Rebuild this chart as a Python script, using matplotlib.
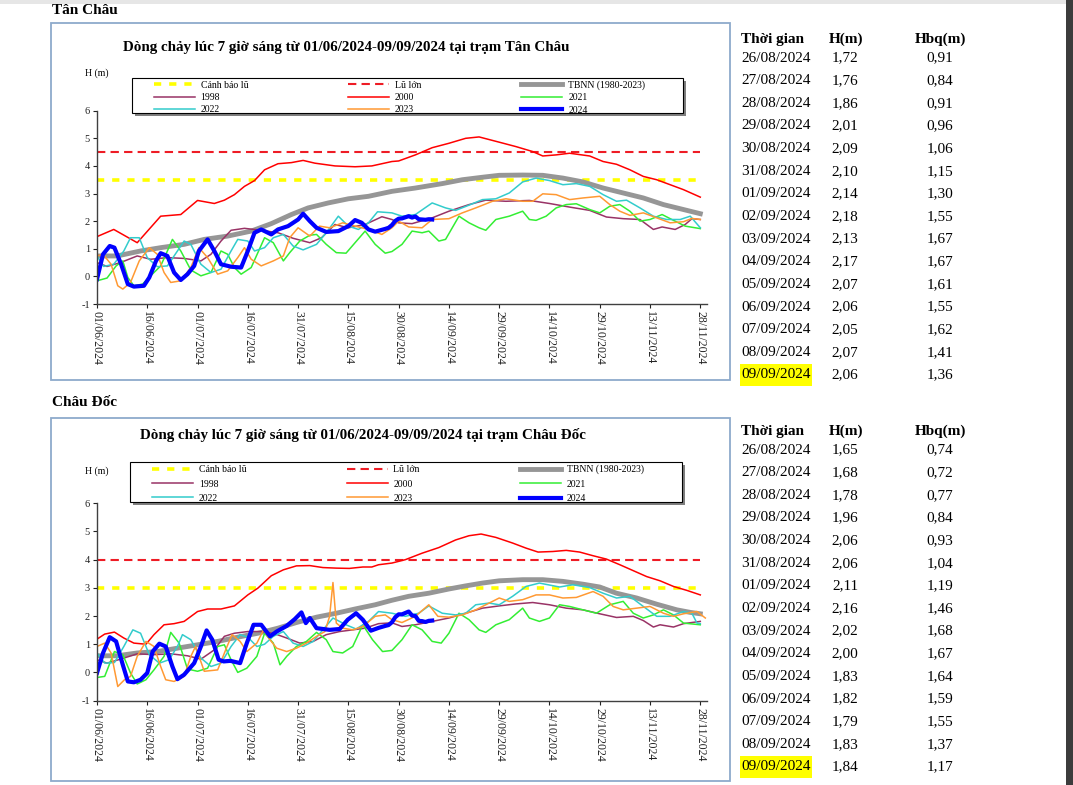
import matplotlib
matplotlib.use("Agg")
import matplotlib.pyplot as plt
from matplotlib.patches import Rectangle
from matplotlib.lines import Line2D

plt.rcParams['font.family'] = ['Liberation Serif', 'DejaVu Serif']
plt.rcParams['axes.unicode_minus'] = False

W, H = 1073, 785

DATE_TICKS = ['01/06/2024', '16/06/2024', '01/07/2024', '16/07/2024', '31/07/2024',
              '15/08/2024', '30/08/2024', '14/09/2024', '29/09/2024', '14/10/2024',
              '29/10/2024', '13/11/2024', '28/11/2024']

TABLE_DATES = ['26/08/2024', '27/08/2024', '28/08/2024', '29/08/2024', '30/08/2024',
               '31/08/2024', '01/09/2024', '02/09/2024', '03/09/2024', '04/09/2024',
               '05/09/2024', '06/09/2024', '07/09/2024', '08/09/2024', '09/09/2024']
TABLE_DAYS = list(range(86, 101))   # days since 01/06/2024

TC_H = [1.72, 1.76, 1.86, 2.01, 2.09, 2.10, 2.14, 2.18, 2.13, 2.17, 2.07, 2.06, 2.05, 2.07, 2.06]
TC_HBQ = [0.91, 0.84, 0.91, 0.96, 1.06, 1.15, 1.30, 1.55, 1.67, 1.67, 1.61, 1.55, 1.62, 1.41, 1.36]
CD_H = [1.65, 1.68, 1.78, 1.96, 2.06, 2.06, 2.11, 2.16, 2.02, 2.00, 1.83, 1.82, 1.79, 1.83, 1.84]
CD_HBQ = [0.74, 0.72, 0.77, 0.84, 0.93, 1.04, 1.19, 1.46, 1.68, 1.67, 1.64, 1.59, 1.55, 1.37, 1.17]

TC_WARN, TC_BIG = 3.5, 4.5
CD_WARN, CD_BIG = 3.0, 4.0

# (day since 01/06, metres) - Tan Chau
TC_TBNN = [(0,0.74),(6,0.74),(13,0.92),(19,1.04),(26,1.16),(32,1.34),(39,1.46),(46,1.64),(52,1.91),
           (58,2.24),(63,2.48),(69,2.66),(75,2.81),(81,2.90),(88,3.08),(95,3.20),(103,3.36),(109,3.50),
           (115,3.59),(120,3.66),(127,3.67),(133,3.66),(139,3.56),(145,3.42),(151,3.20),(157,3.02),
           (163,2.84),(169,2.60),(175,2.42),(180,2.27)]
TC_1998 = [(0,0.50),(3,0.36),(7,0.50),(12,0.74),(16,0.62),(21,0.68),(26,0.65),(31,0.56),(34,0.80),
           (37,1.28),(40,1.67),(44,1.74),(49,1.67),(54,1.58),(58.5,1.38),(63.5,1.22),(67,1.40),(71,1.88),
           (75,1.76),(80,1.88),(85,2.16),(88,2.06),(90,1.94),(94,1.91),(100,2.12),(105,2.36),(111,2.60),
           (116,2.76),(122,2.72),(129,2.75),(135,2.64),(141,2.51),(147,2.39),(152,2.15),(157,2.09),
           (162,2.06),(166,1.70),(168.6,1.79),(172.5,1.70),(175.5,1.88),(177.5,2.09),(180,2.06)]
TC_2000 = [(0,1.44),(5,1.70),(12,1.22),(19,2.18),(25,2.24),(30,2.75),(35,2.64),(38,2.76),(41,2.96),
           (44,3.26),(47,3.47),(50,3.86),(54,4.08),(58,4.12),(61.5,4.20),(65,4.10),(71,4.00),(77,3.97),
           (82,4.00),(88,4.16),(90,4.18),(95,4.40),(100,4.66),(105,4.82),(110,5.00),(114,5.05),(120,4.86),
           (125,4.70),(130,4.52),(133,4.36),(137,4.40),(141,4.46),(147,4.36),(151,4.16),(155,4.06),
           (159,3.86),(163,3.62),(167,3.50),(171,3.32),(175,3.14),(180,2.87)]
TC_2021 = [(0,-0.16),(3,-0.06),(5.7,0.38),(7.7,0.56),(9.2,-0.04),(11,-0.34),(13.6,-0.28),(16,0.02),
           (19,0.38),(21,0.92),(22.5,1.34),(25,0.92),(28,0.23),(31,0.02),(34,0.14),(37,0.92),(39,0.80),
           (41,0.32),(43,0.08),(46,0.32),(48,0.86),(50,1.40),(52.6,1.22),(55.6,0.56),(57.5,0.86),
           (60.5,1.28),(63.5,1.49),(65.5,1.52),(68.4,1.16),(71.4,0.86),(74.3,0.84),(77,1.22),(80,1.64),
           (83,1.16),(86,0.84),(88,0.90),(91,1.16),(94,1.64),(97,1.58),(99,1.64),(102,1.28),(104,1.34),
           (108,2.18),(111,1.94),(114,1.76),(116,1.67),(119,2.06),(123,2.18),(127,2.36),(129,2.06),
           (131,2.03),(134,2.18),(137,2.48),(140,2.60),(143,2.63),(147,2.42),(150,2.30),(153,2.54),
           (156,2.60),(159,2.36),(162,2.00),(165,2.06),(168.6,2.24),(171.5,2.06),(175.5,1.82),(180,1.73)]
TC_2022 = [(0,0.74),(2,0.36),(5,0.44),(8,0.92),(10,1.40),(12.6,1.40),(15,0.68),(18,0.35),(21,0.38),
           (24,0.92),(26,1.28),(28,1.16),(31,0.44),(34,0.14),(37,0.26),(40,0.92),(42,1.34),(45,1.28),
           (47,0.92),(50,1.04),(52.6,1.40),(55.6,1.52),(58.5,1.10),(61.5,0.96),(65.5,1.16),(68.4,1.58),
           (72,2.18),(75,1.82),(78,1.70),(81,1.94),(83.7,2.34),(88,2.30),(91,2.18),(95,2.24),(100,2.66),
           (104,2.48),(107,2.39),(111,2.58),(115,2.78),(119,2.81),(123,3.02),(127,3.42),(131,3.56),
           (135,3.47),(139,3.32),(143,3.36),(147,3.26),(151,2.96),(155,2.72),(158,2.76),(162,2.48),
           (166,2.18),(170,2.06),(174,2.06),(177,2.18),(180,1.76)]
TC_2023 = [(0,0.74),(1.8,0.80),(4.2,0.44),(6.2,-0.34),(7.7,-0.46),(10,-0.22),(12.6,0.56),(15.6,1.04),
           (18,0.80),(20,0.14),(22,-0.22),(25,-0.16),(28,0.32),(30.4,1.04),(33,0.68),(36,0.08),(39,0.20),
           (42,0.68),(44,1.04),(46,0.62),(49,0.38),(52.6,0.56),(55.6,0.74),(57.5,1.40),(60,1.76),
           (63.5,1.46),(66.4,1.82),(69.4,1.76),(73.3,1.94),(77,1.82),(81,1.70),(85,1.52),(88,1.76),
           (90,2.00),(93,1.79),(97,1.76),(100,2.06),(105,2.09),(109,2.30),(113,2.48),(118,2.72),
           (122,2.81),(127,2.72),(130,2.72),(133,2.99),(137,2.96),(141,2.78),(145,2.84),(150,2.90),
           (153,2.60),(156,2.36),(159,2.21),(163,2.30),(167,2.12),(171,1.94),(175,1.98),(177.5,2.10),(180,2.06)]
# 2024 before the table period; the table H values continue it
TC_2024 = [(0,-0.10),(1.8,0.80),(3.8,1.10),(5.2,1.04),(7.2,0.44),(9.2,-0.28),(11,-0.37),(14,-0.34),
           (15.6,-0.04),(17.6,0.56),(19,0.84),(21,0.74),(23,0.14),(25,-0.13),(27,0.08),(29,0.38),
           (30.4,0.92),(33,1.34),(35,0.92),(37,0.44),(40,0.35),(43,0.32),(45,0.92),(47,1.58),(49,1.70),
           (52,1.52),(54,1.70),(57,1.82),(60,2.06),(61.5,2.27),(63.5,2.00),(65.5,1.76),(68.4,1.61),
           (72,1.64),(75,1.82),(77,2.04),(79,1.94),(81,1.70),(83,1.62)]

# Chau Doc
CD_TBNN = [(0,0.59),(6,0.59),(12,0.69),(18,0.74),(24,0.86),(30,0.98),(36,1.10),(42,1.25),(48,1.39),
           (54,1.57),(59.5,1.77),(65.5,1.96),(71.4,2.10),(77,2.25),(83,2.40),(88,2.56),(93,2.70),
           (99,2.81),(105,2.96),(110,3.07),(115,3.17),(120,3.25),(127,3.29),(133,3.29),(139,3.23),
           (145,3.13),(150,3.03),(155,2.81),(161,2.64),(167,2.42),(173,2.22),(177,2.13),(180,2.08)]
CD_1998 = [(0,0.45),(3,0.33),(7,0.47),(12,0.66),(17,0.63),(22,0.66),(27,0.59),(31,0.47),(35,0.80),
           (38,1.28),(41,1.39),(45,1.45),(49,1.45),(52.6,1.39),(56.6,1.22),(60.5,1.04),(64.5,1.10),
           (68.4,1.34),(72.4,1.45),(76.3,1.51),(80,1.57),(84,1.73),(88,1.76),(91,1.63),(95,1.69),
           (100,1.81),(105,1.93),(110,2.10),(115,2.28),(120,2.36),(125,2.43),(130,2.48),(135,2.40),
           (140,2.28),(145,2.22),(150,2.08),(155,1.95),(160,1.99),(163,1.84),(166,1.61),(168,1.69),
           (172,1.61),(175,1.73),(180,1.81)]
CD_2000 = [(0,1.18),(2.3,1.36),(5.2,1.43),(8,1.22),(11,1.04),(14.6,1.00),(17,1.34),(20,1.69),(23,1.73),
           (26,1.81),(30,2.16),(33,2.25),(37,2.25),(41,2.36),(45,2.75),(48,2.99),(52,3.43),(55.6,3.64),
           (59.5,3.78),(63.5,3.79),(67.4,3.72),(71.4,3.70),(75.3,3.69),(79.3,3.74),(82,3.74),(84,3.82),
           (88,3.88),(92,4.00),(97,4.23),(102,4.43),(107,4.70),(111,4.85),(114.6,4.91),(119,4.79),
           (124,4.59),(128,4.41),(131.6,4.27),(136,4.29),(140,4.33),(144,4.27),(148,4.14),(152,4.02),
           (156,3.82),(160,3.61),(164,3.40),(168,3.25),(172,3.05),(176,2.91),(180,2.75)]
CD_2021 = [(0,-0.18),(2.3,-0.14),(5.2,0.74),(7.7,0.63),(10,-0.02),(12,-0.41),(14.6,-0.26),(17,0.09),
           (20,0.57),(22,1.42),(24.5,1.04),(27,0.12),(30,0.04),(33,0.15),(36,0.92),(38,0.98),(40,0.45),
           (42,0.00),(44.7,0.15),(47.7,0.57),(50,1.39),(52.6,1.04),(54.6,0.27),(56.6,0.57),(59.5,0.92),
           (62.5,1.10),(65.5,1.42),(68.4,1.16),(70.4,0.74),(73.3,0.69),(76.3,0.92),(79.3,1.69),
           (82.2,1.16),(85.2,0.74),(88,0.78),(91,1.16),(94,1.69),(97,1.51),(100,1.10),(102.7,1.04),
           (105,1.39),(108,2.10),(111,1.87),(114,1.51),(116,1.42),(119,1.69),(123,1.87),(127,2.28),
           (129,1.93),(132,1.81),(135,1.93),(138,2.40),(141,2.34),(145,2.22),(149,2.10),(153,2.40),
           (157,2.52),(160,2.10),(163,1.93),(166,2.04),(169,2.22),(172,2.04),(175,1.75),(180,1.69)]
CD_2022 = [(0,0.69),(2.3,0.33),(5.2,0.35),(8,0.92),(10.7,1.51),(13,1.39),(15.6,0.63),(18.6,0.33),
           (21.5,0.45),(24,0.92),(25.5,1.34),(28,1.16),(31,0.51),(34,0.21),(37,0.33),(40,0.92),
           (42.7,1.34),(45,1.25),(47.7,0.92),(50,1.00),(52.6,1.28),(55.6,1.45),(58.5,1.04),(61.5,0.92),
           (64.5,1.10),(67.4,1.51),(70.4,1.93),(74.3,1.69),(77.3,1.54),(81,1.81),(84,2.16),(88,2.10),
           (92,1.99),(96,2.10),(99,2.36),(103,2.10),(107,2.04),(110,2.10),(113,2.40),(117,2.46),
           (120,2.40),(124,2.70),(128,3.05),(132,3.17),(138,3.03),(142,3.11),(147,3.01),(151,2.81),
           (155,2.64),(159,2.70),(163,2.34),(167,1.99),(171,1.99),(175,2.16),(177.5,2.10),(179,1.75),(180,1.73)]
CD_2023 = [(0,0.92),(2.3,1.04),(4.2,0.69),(6.2,-0.50),(8.2,-0.26),(10,-0.14),(12,0.57),(14.6,1.10),
           (17,0.92),(19,0.21),(20.5,-0.26),(23,-0.32),(26,-0.14),(28,0.57),(29.4,0.92),(32,0.04),
           (36,0.09),(38.8,0.92),(40.3,1.34),(42.7,1.10),(44.7,0.74),(47.7,1.04),(49.7,1.51),(51.6,1.16),
           (53.6,0.86),(56.6,0.74),(59.5,0.86),(62.5,1.04),(65.5,1.28),(68,1.45),(69.4,1.99),(70.4,3.19),
           (71.4,1.75),(73.3,1.57),(76.3,1.51),(79.3,1.63),(83,1.99),(86,2.04),(88,1.87),(91,1.77),
           (95,1.99),(99,2.40),(101.7,1.99),(105,1.96),(109,2.04),(113,2.22),(117,2.46),(120,2.64),
           (123,2.52),(127,2.58),(131,2.75),(135,2.75),(139,2.64),(143,2.66),(148,2.87),(151,2.70),
           (154,2.34),(157,2.22),(161,2.28),(165,2.34),(169,2.10),(172,1.99),(175,2.08),(179,2.16),(181.5,1.93)]
CD_2024 = [(0,-0.02),(1.8,0.69),(3.8,1.25),(5.7,1.10),(7.7,0.27),(9.2,-0.32),(11,-0.35),(13,-0.26),
           (15,-0.02),(16.6,0.74),(18.6,1.02),(20.5,0.92),(22.5,0.21),(24,-0.24),(26,-0.08),(29,0.33),
           (31,0.92),(32.7,1.49),(34.4,1.16),(36.3,0.45),(37.8,0.39),(39.8,0.41),(42.7,0.33),(44.7,1.04),
           (46.7,1.69),(49,1.69),(51.6,1.28),(53.6,1.45),(56.6,1.65),(59,1.89),(61,2.13),(62.3,1.75),
           (63.5,1.93),(65.5,1.57),(69.4,1.51),(72.4,1.54),(74.8,1.87),(77.3,2.10),(79.3,1.87),
           (81.7,1.48),(84,1.58)]

YEAR_STYLE = [('1998', '#993366', 1.1), ('2000', '#ff0000', 1.1), ('2021', '#33ee33', 1.1),
              ('2022', '#33cccc', 1.1), ('2023', '#ff9933', 1.1), ('2024', '#0000ff', 3.0)]


def fx(x): return x / W
def fy(y): return 1 - y / H


def xy(pairs):
    return [p[0] for p in pairs], [p[1] for p in pairs]


def draw_panel(fig, top, bottom, warn, big, tbnn, years, title, tcx, tcy, hy, leg, lspace):
    ax = fig.add_axes([fx(97), fy(bottom), 610 / W, (bottom - top) / H])
    ax.hlines(warn, 0, 180, colors='#ffff00', linestyles=(0, (2, 2.2)), lw=2.6)
    ax.hlines(big, 0, 180, colors='#ee1c25', linestyles=(0, (4, 2.5)), lw=1.5)
    x, y = xy(tbnn)
    ax.plot(x, y, color='#969696', lw=3.5)
    for (name, c, lw), pairs in zip(YEAR_STYLE, years):
        x, y = xy(pairs)
        ax.plot(x, y, color=c, lw=lw)
    ax.set_xlim(0, 182)
    ax.set_ylim(-1, 6)
    ax.set_xticks(range(0, 181, 15))
    ax.set_xticklabels(DATE_TICKS, rotation=-90, fontsize=8.5)
    ax.set_yticks(range(-1, 7))
    ax.tick_params(axis='y', labelsize=7.5, length=3, width=0.8, pad=2, colors='#222222')
    ax.tick_params(axis='x', length=3, width=0.8, pad=2, colors='#222222')
    for s in ['top', 'right']:
        ax.spines[s].set_visible(False)
    for s in ['left', 'bottom']:
        ax.spines[s].set_color('#404040')
        ax.spines[s].set_linewidth(1.0)
    fig.text(fx(tcx), fy(tcy), title, ha='center', va='center', fontsize=10.8, fontweight='bold')
    fig.text(fx(97), fy(hy), 'H (m)', ha='center', va='center', fontsize=7)

    # legend frame with shadow
    lx0, ly0, lx1, ly1 = leg
    fig.patches.append(Rectangle((fx(lx0 + 3), fy(ly1 + 3)), (lx1 - lx0) / W, (ly1 - ly0) / H,
                                 transform=fig.transFigure, facecolor='#7f7f7f', edgecolor='none'))
    fig.patches.append(Rectangle((fx(lx0), fy(ly1)), (lx1 - lx0) / W, (ly1 - ly0) / H,
                                 transform=fig.transFigure, facecolor='white', edgecolor='black', lw=0.8))
    h = {
        'Cảnh báo lũ': Line2D([], [], color='#ffff00', ls=(0, (2, 2.2)), lw=2.6),
        'Lũ lớn': Line2D([], [], color='#ee1c25', ls=(0, (4, 2.5)), lw=1.5),
        'TBNN (1980-2023)': Line2D([], [], color='#969696', lw=3.5),
    }
    for name, c, lw in YEAR_STYLE:
        h[name] = Line2D([], [], color=c, lw=lw)
    order = ['Cảnh báo lũ', '1998', '2022', 'Lũ lớn', '2000', '2023', 'TBNN (1980-2023)', '2021', '2024']
    fig.legend([h[k] for k in order], order, ncol=3, frameon=False, loc='center',
               bbox_to_anchor=(fx((lx0 + lx1) / 2 - 8), fy((ly0 + ly1) / 2 + 2)), fontsize=7,
               handlelength=4.2, handletextpad=0.6, columnspacing=10.3, labelspacing=lspace,
               borderpad=0, borderaxespad=0)
    return ax


def draw_table(fig, y0, hvals, hbq, hl_color='#ffff00'):
    fig.text(fx(741), fy(y0), 'Thời gian', ha='left', va='center', fontsize=11, fontweight='bold')
    fig.text(fx(846), fy(y0), 'H(m)', ha='center', va='center', fontsize=11, fontweight='bold')
    fig.text(fx(940), fy(y0), 'Hbq(m)', ha='center', va='center', fontsize=11, fontweight='bold')
    step = 22.64
    for i, (d, hv, bv) in enumerate(zip(TABLE_DATES, hvals, hbq)):
        yy = y0 + 19 + step * i
        if i == len(TABLE_DATES) - 1:
            fig.patches.append(Rectangle((fx(740), fy(yy + 11)), 72 / W, 22 / H,
                                         transform=fig.transFigure, facecolor=hl_color, edgecolor='none'))
        fig.text(fx(741), fy(yy), d, ha='left', va='center', fontsize=11)
        fig.text(fx(845), fy(yy), f'{hv:.2f}'.replace('.', ','), ha='center', va='center', fontsize=11)
        fig.text(fx(940), fy(yy), f'{bv:.2f}'.replace('.', ','), ha='center', va='center', fontsize=11)


fig = plt.figure(figsize=(W / 100, H / 100), dpi=100)

# page decorations
fig.patches.append(Rectangle((fx(1066), 0), 7 / W, 1, transform=fig.transFigure,
                             facecolor='#3c3c3c', edgecolor='none'))
fig.patches.append(Rectangle((0, fy(4)), fx(1066), 4 / H, transform=fig.transFigure,
                             facecolor='#e6e6e6', edgecolor='none'))
for top, bot in [(23, 380), (418, 781)]:
    fig.patches.append(Rectangle((fx(51), fy(bot)), (730 - 51) / W, (bot - top) / H,
                                 transform=fig.transFigure, fill=False, edgecolor='#8eaacb', lw=1.3))

fig.text(fx(52), fy(11), 'Tân Châu', ha='left', va='center', fontsize=11, fontweight='bold')
fig.text(fx(52), fy(402), 'Châu Đốc', ha='left', va='center', fontsize=11, fontweight='bold')

draw_panel(fig, 110.7, 304, TC_WARN, TC_BIG, TC_TBNN,
           [TC_1998, TC_2000, TC_2021, TC_2022, TC_2023,
            TC_2024 + list(zip(TABLE_DAYS, TC_H))],
           'Dòng chảy lúc 7 giờ sáng từ 01/06/2024-09/09/2024 tại trạm Tân Châu',
           346, 48, 73, (132, 78, 683, 113), 0.35)
draw_panel(fig, 503.3, 700.6, CD_WARN, CD_BIG, CD_TBNN,
           [CD_1998, CD_2000, CD_2021, CD_2022, CD_2023,
            CD_2024 + list(zip(TABLE_DAYS, CD_H))],
           'Dòng chảy lúc 7 giờ sáng từ 01/06/2024-09/09/2024 tại trạm Châu Đốc',
           363, 435, 471, (130, 462, 682, 502), 0.55)

draw_table(fig, 39, TC_H, TC_HBQ)
draw_table(fig, 431, CD_H, CD_HBQ)

fig.savefig('out.png', dpi=100)
